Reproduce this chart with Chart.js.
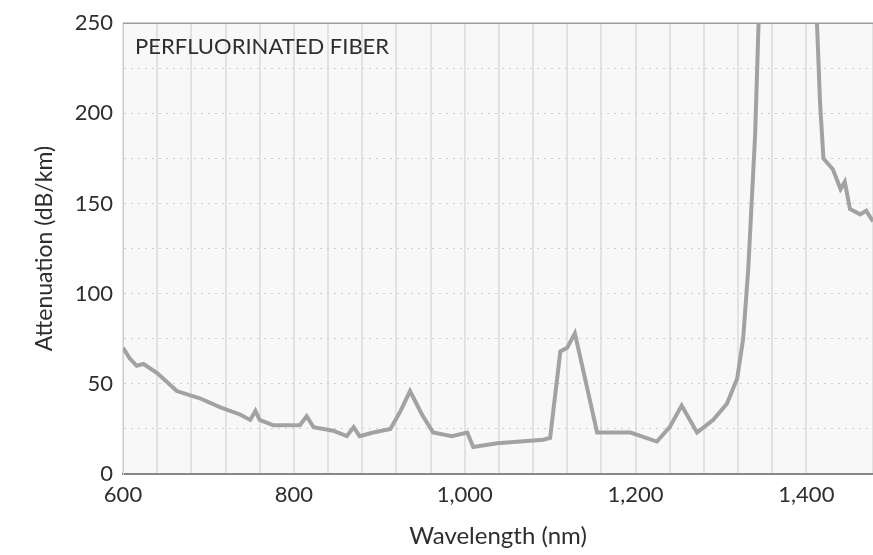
<!DOCTYPE html>
<html>
<head>
<meta charset="utf-8">
<title>Perfluorinated fiber</title>
<script src="https://cdn.jsdelivr.net/npm/chart.js@4.4.1/dist/chart.umd.min.js"></script>
<style>
    html, body { margin: 0; padding: 0; background: #fff; }
    #wrap { width: 873px; height: 555px; position: relative; }
</style>
</head>
<body>
<div id="wrap"><canvas id="attChart" width="873" height="555"></canvas></div>
<script>
// wavelength (nm) and attenuation (dB/km)
var wavelengths = [600, 608, 616, 624, 640, 663, 690, 714, 737, 749, 755, 760, 776, 807, 815, 823,
    846, 862, 870, 877, 893, 913, 925, 936, 950, 963, 985, 1003, 1010, 1038, 1092, 1100, 1112,
    1120, 1129, 1139, 1155, 1194, 1225, 1240, 1254, 1272, 1291, 1307, 1319, 1326, 1332, 1340,
    1346, 1410, 1416, 1420, 1431, 1440, 1445, 1451, 1463, 1470, 1478];
var attenuation = [70, 64, 60, 61, 56, 46, 42, 37, 33, 30, 35, 30, 27, 27, 32, 26,
    24, 21, 26, 21, 23, 25, 35, 46, 33, 23, 21, 23, 15, 17, 19, 20, 68,
    70, 78, 57, 23, 23, 18, 26, 38, 23, 30, 39, 53, 75, 114, 188,
    280, 280, 206, 175, 169, 158, 162, 147, 144, 146, 140];
var xTickLabels = [600, 800, 1000, 1200, 1400];
var yTickLabels = [0, 50, 100, 150, 200, 250];
var chartLabel = 'PERFLUORINATED FIBER';

var points = [];
for (var i = 0; i < wavelengths.length; i++) {
    points.push({x: wavelengths[i], y: attenuation[i]});
}

var FONT = 'Lato, "Open Sans", sans-serif';

//-------------
//- plot background + inner label -
//-------------
var paperPlugin = {
    id: 'paper',
    beforeDraw: function (chart) {
        var a = chart.chartArea, ctx = chart.ctx;
        ctx.save();
        ctx.fillStyle = '#f8f8f8';
        ctx.fillRect(a.left, a.top, a.right - a.left, a.bottom - a.top);
        ctx.restore();
    },
    afterDraw: function (chart) {
        var a = chart.chartArea, ctx = chart.ctx;
        ctx.save();
        ctx.fillStyle = '#2e2e2e';
        ctx.font = '22px ' + FONT;
        ctx.textBaseline = 'middle';
        ctx.fillText(chartLabel, a.left + 12, a.top + 24);
        // top border
        ctx.strokeStyle = '#9c9c9c';
        ctx.lineWidth = 1.5;
        ctx.beginPath();
        ctx.moveTo(a.left, a.top);
        ctx.lineTo(a.right, a.top);
        ctx.stroke();
        ctx.restore();
    }
};

var ctx = document.getElementById('attChart').getContext('2d');
var attChart = new Chart(ctx, {
    type: 'line',
    data: {
        datasets: [{
            label: 'Attenuation',
            data: points,
            borderColor: '#a2a2a2',
            borderWidth: 4,
            pointRadius: 0,
            tension: 0,
            fill: false
        }]
    },
    options: {
        responsive: false,
        animation: false,
        layout: {padding: {top: 20, right: 0, left: 0, bottom: 0}},
        plugins: {
            legend: {display: false},
            tooltip: {enabled: false}
        },
        scales: {
            x: {
                type: 'linear',
                min: 600,
                max: 1478,
                border: {display: true, color: '#888', width: 2},
                grid: {color: '#e2e2e2', lineWidth: 2, drawTicks: false},
                ticks: {
                    stepSize: 40,
                    autoSkip: false,
                    maxRotation: 0,
                    padding: 8,
                    color: '#2e2e2e',
                    font: {family: FONT, size: 22},
                    callback: function (v) {
                        if (xTickLabels.indexOf(v) < 0) return '';
                        return v.toLocaleString('en-US');
                    }
                },
                title: {
                    display: true,
                    text: 'Wavelength (nm)',
                    color: '#2e2e2e',
                    font: {family: FONT, size: 24},
                    padding: {top: 0, bottom: 4}
                },
                afterFit: function (scale) {
                    scale.height = 81;
                    scale.paddingRight = 0;
                    scale.paddingLeft = 0;
                }
            },
            y: {
                min: 0,
                max: 250,
                border: {display: true, color: '#d0d0d0', width: 1, dash: [2, 5]},
                grid: {color: '#cfcfcf', lineWidth: 1, drawTicks: false},
                ticks: {
                    stepSize: 25,
                    autoSkip: false,
                    padding: 10,
                    color: '#2e2e2e',
                    font: {family: FONT, size: 22},
                    callback: function (v) {
                        return yTickLabels.indexOf(v) < 0 ? '' : v;
                    }
                },
                title: {
                    display: true,
                    text: 'Attenuation (dB/km)',
                    color: '#2e2e2e',
                    font: {family: FONT, size: 23},
                    padding: {top: 31, bottom: 0}
                },
                afterFit: function (scale) { scale.width = 123; }
            }
        }
    },
    plugins: [paperPlugin]
});
</script>
</body>
</html>
